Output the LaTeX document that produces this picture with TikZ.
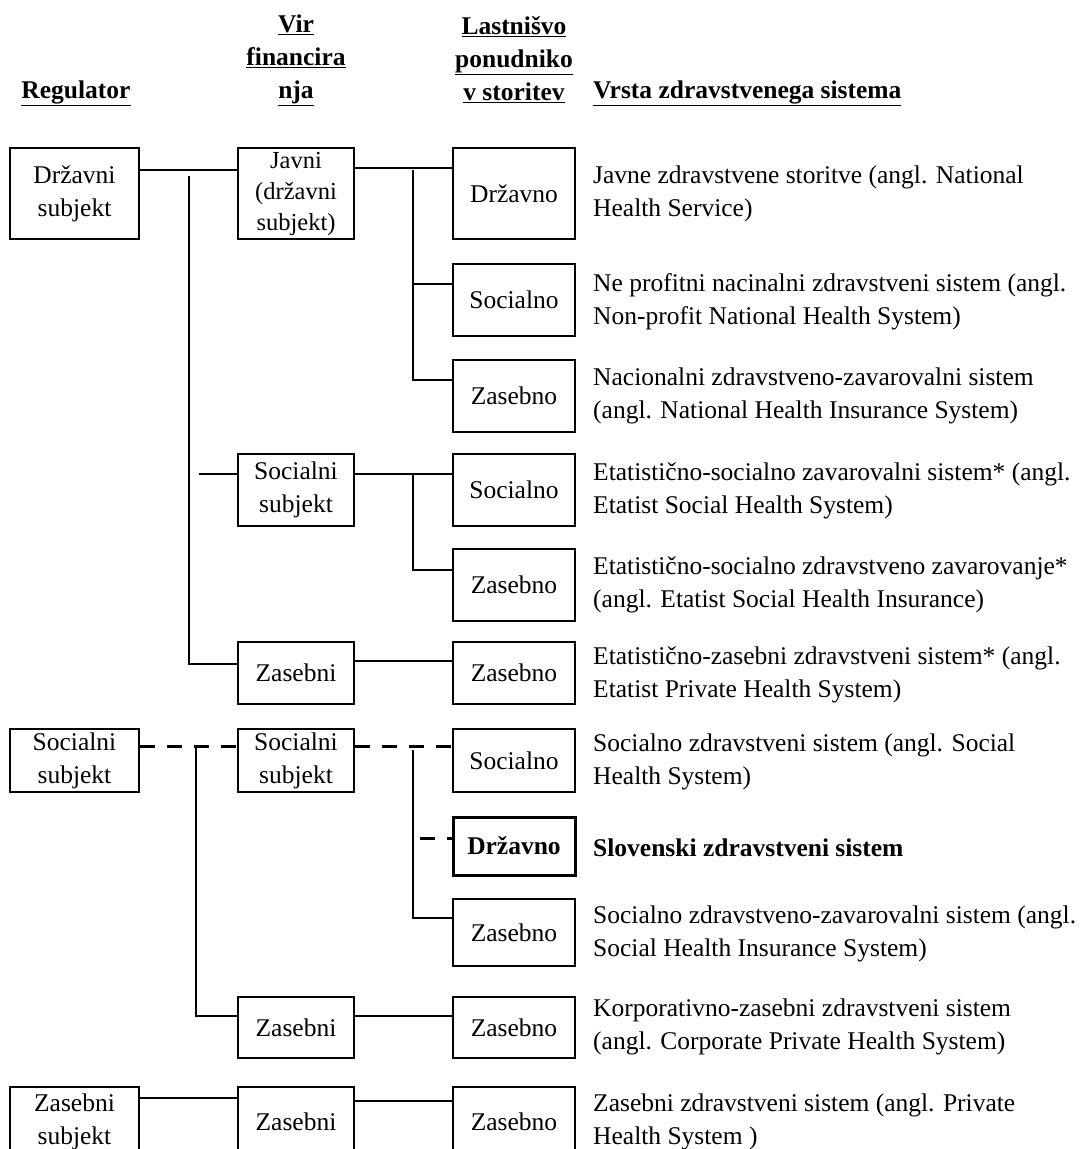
\documentclass[tikz,border=0pt]{standalone}
\usepackage{fontspec}
\setmainfont{Liberation Serif}
\begin{document}
\begin{tikzpicture}[x=1pt, y=-1pt,
  every node/.style={font=\fontsize{25.5}{33}\selectfont, align=center},
  box/.style={draw, line width=1.3pt, inner sep=0pt},
  regbox/.style={box, minimum width=129pt},
  finbox/.style={box, minimum width=116pt},
  ownbox/.style={box, minimum width=122pt},
  link/.style={line width=1.3pt},
  dlink/.style={line width=3pt, dash pattern=on 15pt off 12pt},
  desc/.style={anchor=west, align=left, inner sep=0pt}]
\clip (0,0) rectangle (1085,1149);

% Headers
\node (hreg) at (76,93) {\textbf{\underline{Regulator}}};
\node (hfin) at (296,60) {\textbf{\underline{Vir}}\\\textbf{\underline{financira}}\\\textbf{\underline{nja}}};
\node (hown) at (514,60) {\textbf{\underline{Lastnišvo}}\\\textbf{\underline{ponudniko}}\\\textbf{\underline{v storitev}}};
\node[desc] (htype) at (593,93) {\textbf{\underline{Vrsta zdravstvenega sistema}}};

% Regulator boxes
\node[regbox, minimum height=91pt] (reg1) at (74.5,193.5) {Državni\\subjekt};
\node[regbox, minimum height=63pt] (reg2) at (74.5,760.5) {Socialni\\subjekt};
\node[regbox, minimum height=70pt] (reg3) at (74.5,1122) {Zasebni\\subjekt};

% Financing boxes
\node[finbox, minimum height=91pt, font=\fontsize{24.5}{31}\selectfont] (fin1) at (296,193.5) {Javni\\(državni\\subjekt)};
\node[finbox, minimum height=72pt] (fin2) at (296,490) {Socialni\\subjekt};
\node[finbox, minimum height=62pt] (fin3) at (296,673) {Zasebni};
\node[finbox, minimum height=63pt] (fin4) at (296,760.5) {Socialni\\subjekt};
\node[finbox, minimum height=61pt] (fin5) at (296,1027.5) {Zasebni};
\node[finbox, minimum height=70pt] (fin6) at (296,1122) {Zasebni};

% Ownership boxes
\node[ownbox, minimum height=91pt] (own1) at (514,193.5) {Državno};
\node[ownbox, minimum height=72pt] (own2) at (514,300) {Socialno};
\node[ownbox, minimum height=72pt] (own3) at (514,396) {Zasebno};
\node[ownbox, minimum height=72pt] (own4) at (514,490) {Socialno};
\node[ownbox, minimum height=72pt] (own5) at (514,585) {Zasebno};
\node[ownbox, minimum height=62pt] (own6) at (514,673) {Zasebno};
\node[ownbox, minimum height=63pt] (own7) at (514,760.5) {Socialno};
\node[ownbox, minimum height=58pt, line width=3pt] (own8) at (514,846) {\textbf{Državno}};
\node[ownbox, minimum height=67pt] (own9) at (514,932.5) {Zasebno};
\node[ownbox, minimum height=61pt] (own10) at (514,1027.5) {Zasebno};
\node[ownbox, minimum height=70pt] (own11) at (514,1122) {Zasebno};

% System descriptions
\node[desc] (sys1) at (593,194) {Javne zdravstvene storitve (angl. National\\Health Service)};
\node[desc] (sys2) at (593,302) {Ne profitni nacinalni zdravstveni sistem (angl.\\Non-profit National Health System)};
\node[desc] (sys3) at (593,396) {Nacionalni zdravstveno-zavarovalni sistem\\(angl. National Health Insurance System)};
\node[desc] (sys4) at (593,491) {Etatistično-socialno zavarovalni sistem* (angl.\\Etatist Social Health System)};
\node[desc] (sys5) at (593,585) {Etatistično-socialno zdravstveno zavarovanje*\\(angl. Etatist Social Health Insurance)};
\node[desc] (sys6) at (593,675) {Etatistično-zasebni zdravstveni sistem* (angl.\\Etatist Private Health System)};
\node[desc] (sys7) at (593,762) {Socialno zdravstveni sistem (angl. Social\\Health System)};
\node[desc] (sys8) at (593,848) {\textbf{Slovenski zdravstveni sistem}};
\node[desc] (sys9) at (593,934) {Socialno zdravstveno-zavarovalni sistem (angl.\\Social Health Insurance System)};
\node[desc] (sys10) at (593,1027) {Korporativno-zasebni zdravstveni sistem\\(angl. Corporate Private Health System)};
\node[desc] (sys11) at (593,1122) {Zasebni zdravstveni sistem (angl. Private\\Health System )};

% Rail corners
\coordinate (railA) at (189,176);
\coordinate (railB) at (413,170);
\coordinate (railC) at (413,474);
\coordinate (railD) at (196,748);
\coordinate (railE) at (413,750);

% State regulator
\draw[link] (reg1.east |- 0,170) -- (fin1.west |- 0,170);
\draw[link] (railA) -- (railA |- 0,664) -- (fin3.west |- 0,664);
\draw[link] (199,474) -- (fin2.west |- 0,474);
\draw[link] (fin1.east |- 0,168) -- (own1.west |- 0,168);
\draw[link] (railB) -- (railB |- 0,380) -- (own3.west |- 0,380);
\draw[link] (railB |- 0,284) -- (own2.west |- 0,284);
\draw[link] (fin2.east |- 0,474) -- (own4.west |- 0,474);
\draw[link] (railC) -- (railC |- 0,570) -- (own5.west |- 0,570);
\draw[link] (fin3.east |- 0,661) -- (own6.west |- 0,661);

% Social regulator
\draw[dlink] (reg2.east |- 0,746) -- (fin4.west |- 0,746);
\draw[link] (railD) -- (railD |- 0,1016) -- (fin5.west |- 0,1016);
\draw[dlink] (fin4.east |- 0,746) -- (own7.west |- 0,746);
\draw[link] (railE) -- (railE |- 0,918) -- (own9.west |- 0,918);
\draw[dlink] (420,838) -- (own8.west |- 0,838);
\draw[link] (fin5.east |- 0,1016) -- (own10.west |- 0,1016);

% Private regulator
\draw[link] (reg3.east |- 0,1098) -- (fin6.west |- 0,1098);
\draw[link] (fin6.east |- 0,1101) -- (own11.west |- 0,1101);
\end{tikzpicture}
\end{document}
